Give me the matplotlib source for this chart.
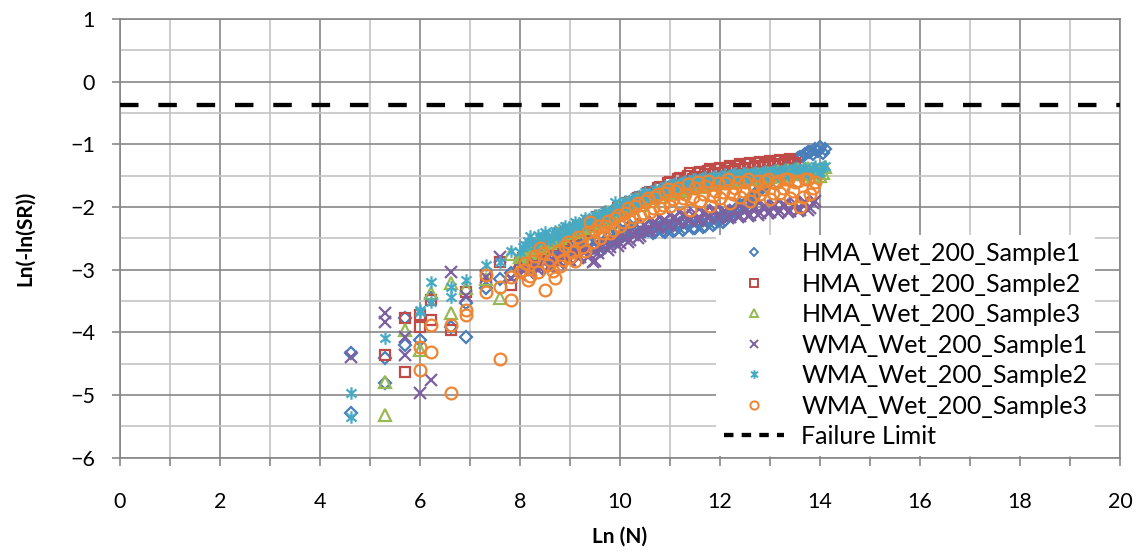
import matplotlib
matplotlib.use("Agg")
import matplotlib.pyplot as plt
from matplotlib.path import Path
from matplotlib.lines import Line2D
from matplotlib.ticker import MultipleLocator

plt.rcParams["font.family"] = ["Lato", "DejaVu Sans"]

# ── Data ──────────────────────────────────────────────────────────────────────
# Ln(N) grids shared by the dense part of every series (two readings per step)
X_DENSE = [8.0, 8.1, 8.2, 8.3, 8.4, 8.5, 8.6, 8.7, 8.8, 8.9,
           9.0, 9.1, 9.2, 9.3, 9.4, 9.5, 9.6, 9.7, 9.8, 9.9,
           10.0, 10.1, 10.2, 10.3, 10.4, 10.5, 10.6, 10.7, 10.8, 10.9,
           11.0, 11.1, 11.2, 11.3, 11.4, 11.5, 11.6, 11.7, 11.8, 11.9,
           12.0, 12.1, 12.2, 12.3, 12.4, 12.5, 12.6, 12.7, 12.8, 12.9,
           13.0, 13.1, 13.2, 13.3, 13.4, 13.5, 13.6, 13.7, 13.8, 13.9,
           14.0, 14.1]
X_DENSE2 = [8.05, 8.15, 8.25, 8.35, 8.45, 8.55, 8.65, 8.75, 8.85, 8.95,
            9.05, 9.15, 9.25, 9.35, 9.45, 9.55, 9.65, 9.75, 9.85, 9.95,
            10.05, 10.15, 10.25, 10.35, 10.45, 10.55, 10.65, 10.75, 10.85, 10.95,
            11.05, 11.15, 11.25, 11.35, 11.45, 11.55, 11.65, 11.75, 11.85, 11.95,
            12.05, 12.15, 12.25, 12.35, 12.45, 12.55, 12.65, 12.75, 12.85, 12.95,
            13.05, 13.15, 13.25, 13.35, 13.45, 13.55, 13.65, 13.75, 13.85, 13.95,
            14.05]

# early cycles (N = 100 ... 2500)
HMA1_X0 = [4.61, 4.61, 5.30, 5.30, 5.70, 5.70, 5.99, 6.21, 6.62, 6.91, 6.91, 7.31, 7.60, 7.82]
HMA1_Y0 = [-4.33, -5.29, -4.41, -4.81, -3.77, -4.20, -4.12, -3.45, -3.92, -3.53, -4.07, -3.30, -3.15, -3.05]
HMA1_Y = [-2.95, -2.84, -2.90, -2.78, -2.82, -2.70, -2.76, -2.62, -2.68, -2.58,
          -2.64, -2.52, -2.60, -2.48, -2.56, -2.62, -2.70, -2.58, -2.44, -2.50,
          -2.36, -2.42, -2.30, -2.36, -2.32, -2.38, -2.30, -2.40, -2.32, -2.40,
          -2.30, -2.36, -2.26, -2.34, -2.26, -2.34, -2.24, -2.30, -2.20, -2.26,
          -2.18, -2.20, -2.10, -2.08, -1.96, -1.95, -1.86, -1.80, -1.72, -1.65,
          -1.58, -1.50, -1.44, -1.36, -1.30, -1.26, -1.20, -1.16, -1.12, -1.08,
          -1.04, -1.07]
HMA1_Y2 = [-2.86, -2.92, -2.80, -2.86, -2.74, -2.80, -2.66, -2.72, -2.60, -2.66,
           -2.54, -2.62, -2.50, -2.58, -2.66, -2.56, -2.64, -2.50, -2.54, -2.40,
           -2.46, -2.34, -2.40, -2.28, -2.40, -2.32, -2.42, -2.34, -2.38, -2.30,
           -2.38, -2.30, -2.36, -2.28, -2.34, -2.26, -2.32, -2.24, -2.28, -2.22,
           -2.24, -2.14, -2.12, -2.00, -2.02, -1.90, -1.84, -1.76, -1.68, -1.62,
           -1.54, -1.48, -1.40, -1.34, -1.28, -1.22, -1.18, -1.12, -1.16, -1.10,
           -1.14]

HMA2_X0 = [5.30, 5.70, 5.70, 5.99, 5.99, 6.21, 6.21, 6.62, 6.91, 7.31, 7.60, 7.82]
HMA2_Y0 = [-4.36, -3.77, -4.63, -3.72, -3.91, -3.48, -3.80, -3.96, -3.35, -3.08, -2.88, -3.24]
HMA2_Y = [-2.90, -2.78, -2.76, -2.70, -2.64, -2.62, -2.52, -2.56, -2.42, -2.48,
          -2.36, -2.42, -2.30, -2.34, -2.22, -2.26, -2.14, -2.20, -2.08, -2.12,
          -2.00, -2.04, -1.92, -1.96, -1.84, -1.88, -1.76, -1.80, -1.68, -1.72,
          -1.60, -1.66, -1.54, -1.58, -1.46, -1.52, -1.44, -1.48, -1.40, -1.45,
          -1.38, -1.42, -1.35, -1.40, -1.32, -1.37, -1.30, -1.35, -1.28, -1.33,
          -1.27, -1.32, -1.25, -1.30, -1.24, -1.29]
HMA2_Y2 = [-2.82, -2.72, -2.80, -2.62, -2.70, -2.54, -2.60, -2.46, -2.52, -2.38,
           -2.44, -2.32, -2.38, -2.24, -2.30, -2.16, -2.22, -2.10, -2.16, -2.02,
           -2.08, -1.94, -2.00, -1.86, -1.92, -1.78, -1.84, -1.70, -1.76, -1.62,
           -1.68, -1.56, -1.62, -1.50, -1.56, -1.46, -1.52, -1.42, -1.48, -1.40,
           -1.45, -1.37, -1.43, -1.34, -1.40, -1.32, -1.38, -1.30, -1.36, -1.29,
           -1.35, -1.27, -1.33, -1.26, -1.32]

HMA3_X0 = [5.30, 5.30, 5.70, 5.99, 6.21, 6.62, 6.62, 6.91, 7.31, 7.60, 7.82]
HMA3_Y0 = [-4.79, -5.32, -3.96, -4.28, -3.37, -3.21, -3.69, -3.30, -3.15, -3.45, -2.75]
HMA3_Y = [-2.80, -2.70, -2.74, -2.62, -2.66, -2.54, -2.58, -2.46, -2.50, -2.38,
          -2.42, -2.32, -2.38, -2.26, -2.30, -2.18, -2.22, -2.12, -2.16, -2.06,
          -2.10, -1.98, -2.02, -1.92, -1.96, -1.86, -1.90, -1.80, -1.84, -1.74,
          -1.78, -1.70, -1.74, -1.66, -1.70, -1.62, -1.68, -1.60, -1.64, -1.57,
          -1.62, -1.55, -1.60, -1.53, -1.58, -1.51, -1.56, -1.49, -1.54, -1.47,
          -1.52, -1.45, -1.50, -1.43, -1.48, -1.42, -1.47, -1.40, -1.46, -1.38,
          -1.50, -1.36]
HMA3_Y2 = [-2.76, -2.66, -2.70, -2.58, -2.62, -2.50, -2.54, -2.42, -2.46, -2.36,
           -2.40, -2.28, -2.34, -2.22, -2.26, -2.14, -2.20, -2.08, -2.12, -2.02,
           -2.06, -1.94, -1.98, -1.88, -1.92, -1.82, -1.86, -1.76, -1.80, -1.72,
           -1.76, -1.68, -1.72, -1.64, -1.68, -1.60, -1.64, -1.58, -1.62, -1.56,
           -1.60, -1.53, -1.58, -1.51, -1.56, -1.49, -1.54, -1.47, -1.52, -1.45,
           -1.50, -1.43, -1.48, -1.41, -1.46, -1.40, -1.45, -1.38, -1.52, -1.42,
           -1.46]

WMA1_X0 = [4.61, 5.30, 5.30, 5.70, 5.70, 5.99, 6.21, 6.62, 6.91, 7.31, 7.60, 7.82]
WMA1_Y0 = [-4.39, -3.69, -3.83, -4.07, -4.36, -4.97, -4.76, -3.03, -3.42, -3.12, -2.79, -3.14]
WMA1_Y = [-3.08, -2.96, -3.02, -2.90, -2.98, -2.86, -2.94, -2.80, -2.88, -2.76,
          -2.84, -2.72, -2.80, -2.68, -2.76, -2.86, -2.66, -2.58, -2.64, -2.52,
          -2.58, -2.46, -2.52, -2.40, -2.46, -2.28, -2.36, -2.24, -2.32, -2.20,
          -2.28, -2.16, -2.24, -2.12, -2.20, -2.10, -2.20, -2.08, -2.16, -2.05,
          -2.15, -2.06, -2.16, -2.04, -2.14, -2.02, -2.12, -2.00, -2.10, -1.98,
          -2.08, -1.97, -2.07, -1.96, -2.06, -1.94, -2.04, -1.92, -2.02, -1.90]
WMA1_Y2 = [-3.00, -3.06, -2.94, -3.00, -2.88, -2.96, -2.84, -2.90, -2.78, -2.86,
           -2.74, -2.82, -2.70, -2.80, -2.88, -2.74, -2.62, -2.68, -2.56, -2.62,
           -2.50, -2.56, -2.44, -2.50, -2.38, -2.38, -2.26, -2.34, -2.22, -2.30,
           -2.18, -2.26, -2.14, -2.22, -2.12, -2.22, -2.10, -2.18, -2.07, -2.17,
           -2.08, -2.18, -2.06, -2.16, -2.04, -2.14, -2.02, -2.12, -2.00, -2.10,
           -1.98, -2.09, -1.97, -2.08, -1.96, -2.06, -1.94, -2.04, -1.93]

WMA2_X0 = [4.61, 4.61, 5.30, 5.99, 5.99, 6.21, 6.21, 6.62, 6.62, 6.91, 7.31, 7.60, 7.82]
WMA2_Y0 = [-4.97, -5.35, -4.09, -3.64, -3.67, -3.19, -3.52, -3.27, -3.43, -3.16, -2.92, -2.87, -2.70]
WMA2_Y = [-2.72, -2.60, -2.46, -2.62, -2.50, -2.40, -2.52, -2.38, -2.44, -2.30,
          -2.36, -2.24, -2.30, -2.18, -2.24, -2.12, -2.18, -2.06, -2.12, -1.92,
          -2.02, -1.90, -1.96, -1.84, -1.90, -1.76, -1.84, -1.72, -1.78, -1.66,
          -1.72, -1.62, -1.68, -1.58, -1.64, -1.55, -1.62, -1.52, -1.60, -1.50,
          -1.58, -1.48, -1.56, -1.46, -1.54, -1.45, -1.53, -1.44, -1.52, -1.42,
          -1.50, -1.41, -1.49, -1.40, -1.48, -1.38, -1.46, -1.37, -1.45, -1.35,
          -1.44, -1.34]
WMA2_Y2 = [-2.64, -2.54, -2.58, -2.44, -2.54, -2.46, -2.42, -2.48, -2.34, -2.40,
           -2.28, -2.34, -2.22, -2.28, -2.16, -2.22, -2.10, -2.16, -2.04, -2.08,
           -1.94, -2.00, -1.88, -1.94, -1.80, -1.86, -1.76, -1.82, -1.70, -1.76,
           -1.64, -1.70, -1.60, -1.66, -1.56, -1.64, -1.54, -1.62, -1.52, -1.60,
           -1.50, -1.58, -1.48, -1.56, -1.46, -1.55, -1.45, -1.54, -1.44, -1.52,
           -1.43, -1.51, -1.42, -1.50, -1.40, -1.48, -1.39, -1.47, -1.37, -1.46,
           -1.36]

WMA3_X0 = [5.99, 5.99, 6.21, 6.21, 6.62, 6.62, 6.91, 6.91, 7.31, 7.31, 7.60, 7.60, 7.82, 7.82]
WMA3_Y0 = [-4.23, -4.60, -3.88, -4.31, -3.88, -4.97, -3.64, -3.72, -3.08, -3.35, -3.27, -4.43, -3.11, -3.48]
WMA3_Y = [-3.04, -2.90, -3.10, -2.78, -2.66, -3.32, -2.84, -3.13, -2.94, -2.62,
          -2.80, -2.86, -2.54, -2.70, -2.24, -2.36, -2.50, -2.30, -2.42, -2.18,
          -2.30, -2.10, -2.22, -1.98, -2.14, -1.90, -2.08, -1.84, -2.02, -1.78,
          -1.98, -1.74, -1.94, -1.80, -2.04, -1.70, -1.90, -1.66, -1.98, -1.74,
          -1.86, -1.62, -1.94, -1.70, -1.84, -1.60, -1.90, -1.66, -1.80, -1.58,
          -1.88, -1.62, -1.78, -1.56, -1.86, -1.60, -2.00, -1.56, -1.80, -1.60]
WMA3_Y2 = [-3.00, -3.16, -2.86, -3.04, -2.74, -2.92, -3.02, -2.70, -2.84, -2.56,
           -2.72, -2.48, -2.64, -2.40, -2.56, -2.30, -2.42, -2.22, -2.36, -2.12,
           -2.24, -2.02, -2.16, -1.94, -2.10, -1.86, -2.02, -1.80, -1.96, -1.72,
           -1.88, -1.70, -1.86, -1.64, -1.84, -1.60, -1.80, -1.58, -1.82, -1.62,
           -1.76, -1.56, -1.80, -1.60, -1.74, -1.56, -1.82, -1.58, -1.72, -1.56,
           -1.78, -1.58, -1.70, -1.56, -1.74, -1.58, -1.84, -1.56, -1.70]

FAILURE_LIMIT = -0.367   # ln(-ln(0.5))

SERIES = [
    ("HMA_Wet_200_Sample1", HMA1_X0, HMA1_Y0, HMA1_Y, HMA1_Y2),
    ("HMA_Wet_200_Sample2", HMA2_X0, HMA2_Y0, HMA2_Y, HMA2_Y2),
    ("HMA_Wet_200_Sample3", HMA3_X0, HMA3_Y0, HMA3_Y, HMA3_Y2),
    ("WMA_Wet_200_Sample1", WMA1_X0, WMA1_Y0, WMA1_Y, WMA1_Y2),
    ("WMA_Wet_200_Sample2", WMA2_X0, WMA2_Y0, WMA2_Y, WMA2_Y2),
    ("WMA_Wet_200_Sample3", WMA3_X0, WMA3_Y0, WMA3_Y, WMA3_Y2),
]

# ── Styles ────────────────────────────────────────────────────────────────────
star = Path([(0, -1), (0, 1), (-0.8, -0.65), (0.8, 0.65), (-0.8, 0.65), (0.8, -0.65)],
            [Path.MOVETO, Path.LINETO, Path.MOVETO, Path.LINETO, Path.MOVETO, Path.LINETO])

STYLES = [
    dict(marker="D", ms=6.5, color="#4A7EBB"),
    dict(marker="s", ms=7.5, color="#BE4B48"),
    dict(marker="^", ms=8.0, color="#98B954"),
    dict(marker="x", ms=8.0, color="#7D60A0"),
    dict(marker=star, ms=9.0, color="#46AAC5"),
    dict(marker="o", ms=8.5, color="#EE8533"),
]

# ── Figure ────────────────────────────────────────────────────────────────────
fig = plt.figure(figsize=(11.4, 5.56), dpi=100, facecolor="white")
ax = fig.add_axes([120 / 1140, 1 - 457.7 / 556, 1000 / 1140, 438.7 / 556])

handles = []
for (label, x0, y0, yd, yd2), st in zip(SERIES, STYLES):
    xs = x0 + X_DENSE[:len(yd)] + X_DENSE2[:len(yd2)]
    ys = y0 + yd + yd2
    ax.plot(xs, ys, linestyle="none", marker=st["marker"], ms=st["ms"],
            mfc="none", mec=st["color"], mew=1.6, zorder=3)
    handles.append(Line2D([], [], linestyle="none", marker=st["marker"],
                          ms=st["ms"] * 0.7, mfc="none", mec=st["color"],
                          mew=1.4, label=label))

ax.axhline(FAILURE_LIMIT, color="black", lw=3.1, dashes=(4.3, 4.6),
           dash_capstyle="butt", zorder=4)
handles.append(Line2D([], [], color="black", lw=3.1, dashes=(2.2, 1.9),
                      dash_capstyle="butt", label="Failure Limit"))

ax.set_xlim(0, 20)
ax.set_ylim(-6, 1)
ax.xaxis.set_major_locator(MultipleLocator(2))
ax.xaxis.set_minor_locator(MultipleLocator(1))
ax.yaxis.set_major_locator(MultipleLocator(1))
ax.yaxis.set_minor_locator(MultipleLocator(0.5))

ax.grid(which="major", color="#878787", lw=1.2, zorder=0)
ax.grid(which="minor", color="#c4c4c4", lw=1.2, zorder=0)
ax.set_axisbelow(True)

for s in ax.spines.values():
    s.set_color("#878787")
    s.set_linewidth(1.2)

ax.tick_params(axis="x", which="both", direction="out", length=6,
               width=1.2, color="#878787", pad=19, labelsize=15.5)
ax.tick_params(axis="y", which="major", direction="out", length=6,
               width=1.2, color="#878787", pad=12, labelsize=15.5)
ax.tick_params(axis="y", which="minor", length=0)

ax.set_xlabel("Ln (N)", fontsize=15, fontweight="bold", va="center")
ax.xaxis.set_label_coords(0.5, -0.181)
ax.set_ylabel("Ln(-ln(SR))", fontsize=15, fontweight="bold", va="center")
ax.yaxis.set_label_coords(-0.095, 0.5)

leg = ax.legend(handles=handles, loc="lower right", bbox_to_anchor=(0.975, 0.005),
                fontsize=18, frameon=True, fancybox=False, framealpha=1,
                facecolor="white", edgecolor="none", borderaxespad=0,
                borderpad=0.3, handlelength=2.4, handletextpad=0.7,
                labelspacing=0.3)
leg.set_zorder(5)

fig.savefig("out.png", dpi=100, facecolor="white")
